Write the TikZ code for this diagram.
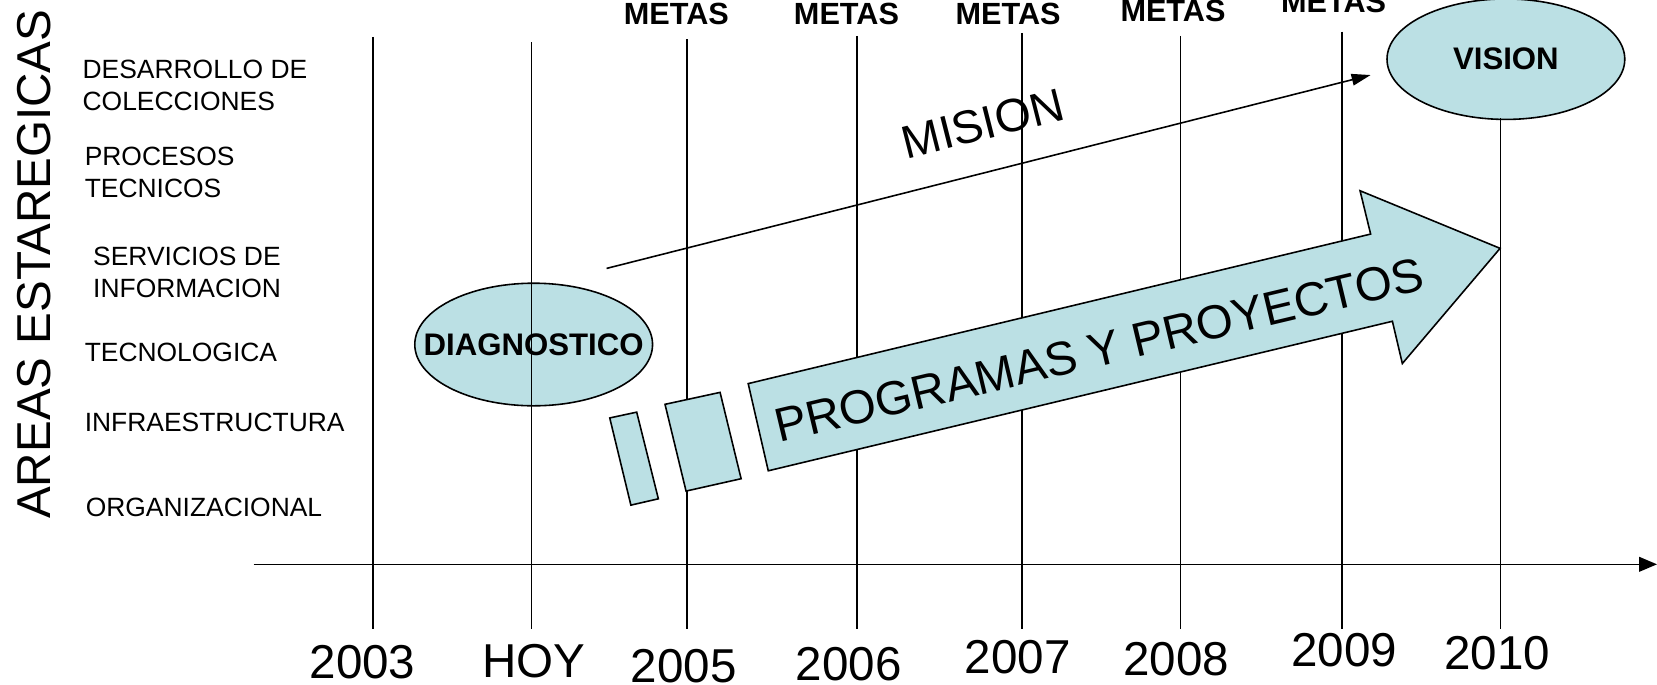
\documentclass[tikz,border=0pt]{standalone}
\usepackage{fontspec}
\setmainfont{Liberation Sans}
\usetikzlibrary{arrows.meta,shapes.geometric}
\definecolor{lb}{RGB}{187,224,228}
\begin{document}
\begin{tikzpicture}[x=1pt,y=-1pt,
  vline/.style={line width=1.5pt},
  bluefill/.style={draw, line width=1.5pt, fill=lb},
  oval/.style={bluefill, ellipse, inner sep=0pt},
  ovaltxt/.style={font=\bfseries\fontsize{29.5}{34}\selectfont, inner sep=0pt},
  arealbl/.style={font=\fontsize{25}{30}\selectfont, anchor=west, align=left, inner sep=0pt},
  yearlbl/.style={font=\fontsize{45}{54}\selectfont, inner sep=0pt},
  metaslbl/.style={font=\bfseries\fontsize{29}{34}\selectfont, inner sep=0pt},
  bigtxt/.style={font=\fontsize{45}{52}\selectfont, inner sep=0pt}]
\useasboundingbox (0,0) rectangle (1568,648);

% left title
\node[font=\fontsize{45}{54}\selectfont, rotate=90, inner sep=0pt] (areas) at (32,250) {AREAS ESTAREGICAS};

% area labels
\node[arealbl] (a1) at (78,81) {DESARROLLO DE\\COLECCIONES};
\node[arealbl] (a2) at (80,163) {PROCESOS\\TECNICOS};
\node[arealbl] (a3) at (88,258) {SERVICIOS DE\\INFORMACION};
\node[arealbl] (a4) at (80,333) {TECNOLOGICA};
\node[arealbl] (a5) at (80,400) {INFRAESTRUCTURA};
\node[arealbl] (a6) at (81,480) {ORGANIZACIONAL};

% diagnostico ellipse (under the HOY line)
\node[oval, minimum width=225pt, minimum height=116pt] (diag) at (505,326) {};

% vertical time lines
\foreach \x/\t in {353/35, 503/40, 650/37, 811/34, 967/31, 1117/34, 1270/30}
  \draw[vline] (\x,\t) -- (\x,595);

\node[ovaltxt] (diaglbl) at (diag.center) {DIAGNOSTICO};

% vision ellipse
\node[oval, minimum width=225pt, minimum height=114pt] (vision) at (1425,56) {};
\node[ovaltxt] (visionlbl) at (vision.center) {VISION};
\coordinate (v0) at (1420,112);
\coordinate (v1) at (1420,595);
\draw[vline] (v0) -- (v1);

% time axis
\coordinate (ax0) at (240,534);
\coordinate (ax1) at (1568,534);
\draw[line width=1.5pt, -{Triangle[length=17pt,width=14pt]}] (ax0) -- (ax1);

% mision arrow
\coordinate (ms) at (574,254);
\coordinate (me) at (1297,71);
\draw[line width=1.5pt, -{Triangle[length=18pt,width=11pt]}] (ms) -- (me);
\node[bigtxt, font=\fontsize{44}{50}\selectfont, rotate=14.2] (mision) at (930,117) {MISION};

% small blocks
\draw[bluefill] (577,395.5) -- (602.5,390) -- (623,472) -- (597,478) -- cycle;
\draw[bluefill] (629.3,382.6) -- (681.4,371.3) -- (701.3,453) -- (649.2,464.7) -- cycle;

% big arrow
\draw[bluefill] (708,363) -- (1297,221.5) -- (1287,180.5) -- (1419.5,235) -- (1327,344)
  -- (1317.6,304) -- (727,445.5) -- cycle;
\node[bigtxt, rotate=13.4] (prog) at (1040,331) {PROGRAMAS Y PROYECTOS};

% metas
\node[metaslbl] (m1) at (640,13) {METAS};
\node[metaslbl] (m2) at (801,13) {METAS};
\node[metaslbl] (m3) at (954,13) {METAS};
\node[metaslbl] (m4) at (1110,10) {METAS};
\node[metaslbl] (m5) at (1262,2) {METAS};

% years
\node[yearlbl] (y1) at (343,627) {2003};
\node[yearlbl] (y2) at (505,626) {HOY};
\node[yearlbl] (y3) at (647,630) {2005};
\node[yearlbl] (y4) at (803,628) {2006};
\node[yearlbl] (y5) at (963,622) {2007};
\node[yearlbl] (y6) at (1113,624) {2008};
\node[yearlbl] (y7) at (1272,615) {2009};
\node[yearlbl] (y8) at (1417,618) {2010};
\end{tikzpicture}
\end{document}
